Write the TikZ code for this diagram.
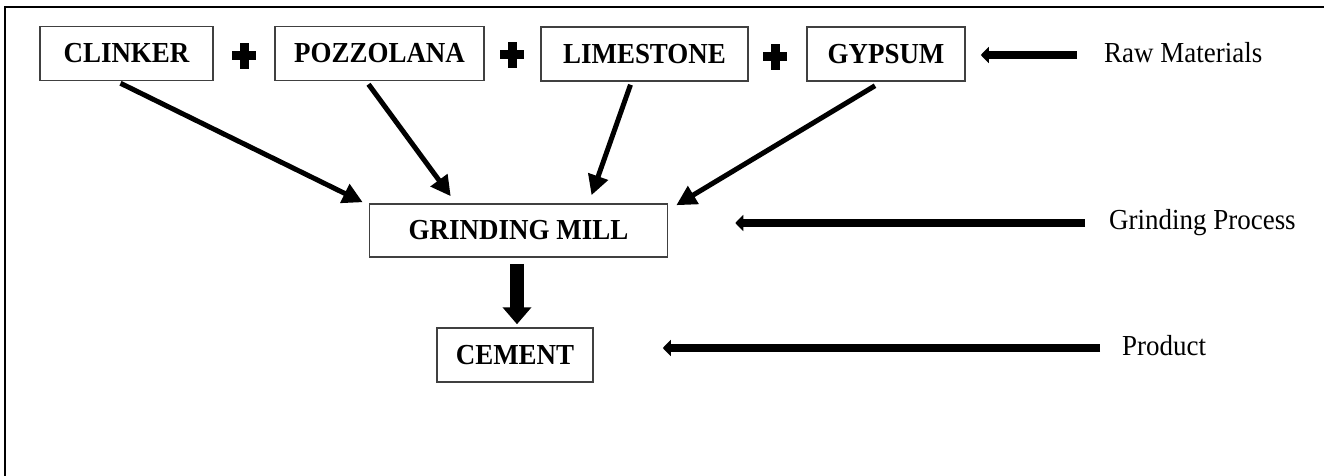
\documentclass[tikz,border=0pt]{standalone}
\usepackage{fontspec}
\setmainfont{Liberation Serif}[FakeStretch=0.93]
\usetikzlibrary{arrows.meta,calc}
\definecolor{boxline}{HTML}{404040}
\tikzset{
  matbox/.style={draw=boxline,line width=1.5pt,minimum height=54pt,inner sep=0pt,
    font=\bfseries\fontsize{29}{31}\selectfont},
  sidelabel/.style={anchor=base west,inner sep=0pt,font=\fontsize{29}{31}\selectfont},
  feed/.style={line width=5pt,-{Triangle[length=20pt,width=20pt]}},
  pointer/.style={line width=8pt,-{Triangle[length=8pt,width=16pt]}},
  bigdown/.style={line width=14pt,-{Triangle[length=17pt,width=28pt]}},
  plusarm/.style={fill=black,draw=none}
}
\begin{document}
\begin{tikzpicture}[x=1pt,y=-1pt]
\useasboundingbox (0,0) rectangle (1324,476);
% frame
\draw[line width=2pt] (5,476) -- (5,7) -- (1324,7);
% raw material boxes
\node[matbox,minimum width=173pt] (clinker) at (126.5,53.5) {CLINKER};
\node[matbox,minimum width=209pt] (pozz) at (379.5,53.5) {POZZOLANA};
\node[matbox,minimum width=207pt] (lime) at (644.5,54) {LIMESTONE};
\node[matbox,minimum width=158pt] (gyp) at (886,54) {GYPSUM};
% plus signs
\foreach \cx/\cy in {244/56, 512/55, 775/57}{
  \fill[plusarm] (\cx-12,\cy-4.5) rectangle (\cx+12,\cy+4.5);
  \fill[plusarm] (\cx-4.5,\cy-13) rectangle (\cx+4.5,\cy+13);
}
% mill and product
\node[matbox,minimum width=298pt,minimum height=53pt] (gm) at (518.5,230.5) {GRINDING MILL};
\node[matbox,minimum width=156pt] (cem) at (515,355) {CEMENT};
% side labels
\node[sidelabel] (raw) at (1104,63) {Raw Materials};
\node[sidelabel] (grp) at (1109,229) {Grinding Process};
\node[sidelabel] (prod) at (1122,355) {Product};
% feed arrows
\draw[feed] ($(clinker.south)+(-6,2)$) -- ($(gm.north west)+(-6,-1)$);
\draw[feed] ($(pozz.south)+(-11,3)$) -- ($(gm.north west)+(82,-7)$);
\draw[feed] ($(lime.south)+(-14,3)$) -- ($(gm.north)+(73,-8)$);
\draw[feed] ($(gyp.south)+(-11,4)$) -- ($(gm.north east)+(8,2)$);
% mill to cement
\draw[bigdown] ($(gm.south)+(-1.5,6)$) -- ($(cem.north)+(2,-3)$);
% side pointers
\draw[pointer] ($(raw.base west)+(-27,-8)$) -- ($(gyp.east)+(15,1)$);
\draw[pointer] ($(grp.base west)+(-24,-6)$) -- ($(gm.east)+(67,-7.5)$);
\draw[pointer] ($(prod.base west)+(-22,-7)$) -- ($(cem.east)+(69,-7)$);
\end{tikzpicture}
\end{document}
